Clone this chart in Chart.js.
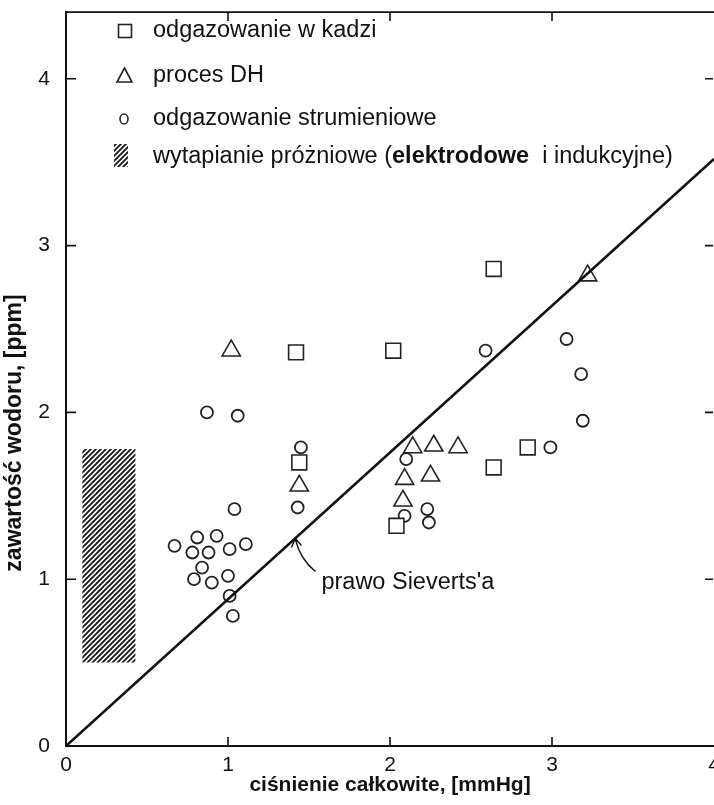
<!DOCTYPE html>
<html>
<head>
<meta charset="utf-8">
<script src="https://cdn.jsdelivr.net/npm/chart.js@4.4.1/dist/chart.umd.min.js"></script>
<style>
    html, body { margin: 0; padding: 0; background: #fff; overflow: hidden; }
    #wrap { width: 714px; height: 805px; overflow: hidden; }
    #wrap canvas { display: block; }
</style>
</head>
<body>
<div id="wrap"><canvas id="chart" width="740" height="805"></canvas></div>
<script>
// odgazowanie w kadzi (squares)
const kadziX = [1.42, 2.02, 2.64, 1.44, 2.04, 2.64, 2.85];
const kadziY = [2.36, 2.37, 2.86, 1.70, 1.32, 1.67, 1.79];

// proces DH (triangles)
const dhX = [1.02, 1.44, 2.14, 2.27, 2.42, 2.09, 2.25, 2.08, 3.22];
const dhY = [2.37, 1.56, 1.79, 1.80, 1.79, 1.60, 1.62, 1.47, 2.82];

// odgazowanie strumieniowe (circles)
const strumX = [0.87, 1.06, 1.45, 1.43, 1.04, 0.67, 0.81, 0.93, 0.78, 0.88, 1.01, 1.11, 0.84, 0.79, 0.90, 1.00, 1.01, 1.03,
                2.10, 2.09, 2.23, 2.24, 2.85, 2.99, 2.59, 3.09, 3.18, 3.19];
const strumY = [2.00, 1.98, 1.79, 1.43, 1.42, 1.20, 1.25, 1.26, 1.16, 1.16, 1.18, 1.21, 1.07, 1.00, 0.98, 1.02, 0.90, 0.78,
                1.72, 1.38, 1.42, 1.34, 1.79, 1.79, 2.37, 2.44, 2.23, 1.95];

// wytapianie próżniowe (hatched range)
const prozniaX = [0.10, 0.43];
const prozniaY = [0.50, 1.78];

// prawo Sieverts'a
const sievertsX = [0, 4];
const sievertsY = [0, 3.52];
const arrowAt = [1.41, 1.25];

const xTicks = [0, 1, 2, 3, 4];
const yTicks = [0, 1, 2, 3, 4];

const xTitle = 'ciśnienie całkowite, [mmHg]';
const yTitle = 'zawartość wodoru, [ppm]';
const legendLabels = ['odgazowanie w kadzi', 'proces DH', 'odgazowanie strumieniowe'];

const toPts = (xs, ys) => xs.map((x, i) => ({ x, y: ys[i] }));

const canvas = document.getElementById('chart');
const ctx0 = canvas.getContext('2d');

function makeHatch() {
    const s = 5;
    const c = document.createElement('canvas');
    c.width = s; c.height = s;
    const g = c.getContext('2d');
    g.strokeStyle = '#1a1a1a';
    g.lineWidth = 1.9;
    g.beginPath();
    g.moveTo(-1, s + 1); g.lineTo(s + 1, -1);
    g.moveTo(-1, 1); g.lineTo(1, -1);
    g.moveTo(s - 1, s + 1); g.lineTo(s + 1, s - 1);
    g.stroke();
    return ctx0.createPattern(c, 'repeat');
}
const hatch = makeHatch();

const FONT = "'Liberation Sans', Arial, sans-serif";

// inner tick marks, top border, y title, legend, arrow
const decorations = {
    id: 'decorations',
    afterDraw(chart) {
        const { ctx, chartArea: a, scales: { x, y } } = chart;
        ctx.save();
        ctx.strokeStyle = '#111';
        ctx.lineWidth = 1.6;
        ctx.beginPath();
        ctx.moveTo(a.left, a.top); ctx.lineTo(a.right, a.top);
        xTicks.slice(1, 4).forEach(v => {
            const px = x.getPixelForValue(v);
            ctx.moveTo(px, a.bottom); ctx.lineTo(px, a.bottom - 9);
            ctx.moveTo(px, a.top); ctx.lineTo(px, a.top + 9);
        });
        yTicks.slice(1).forEach(v => {
            const py = y.getPixelForValue(v);
            ctx.moveTo(a.left, py); ctx.lineTo(a.left + 10, py);
            ctx.moveTo(a.right - 1, py); ctx.lineTo(a.right - 9, py);
        });
        ctx.stroke();

        // y title
        ctx.fillStyle = '#111';
        ctx.font = 'bold 23px ' + FONT;
        ctx.textAlign = 'center';
        ctx.textBaseline = 'middle';
        ctx.translate(15, 433);
        ctx.rotate(-Math.PI / 2);
        ctx.fillText(yTitle, 0, 0);
        ctx.restore();

        // legend
        ctx.save();
        ctx.fillStyle = '#111';
        ctx.strokeStyle = '#222';
        ctx.lineWidth = 1.6;
        ctx.font = '23.5px ' + FONT;
        ctx.textBaseline = 'middle';
        ctx.textAlign = 'left';
        const rows = [31, 76, 119, 157];
        const tx = 153;
        ctx.strokeRect(118.5, rows[0] - 6.5, 13, 13);
        ctx.fillText(legendLabels[0], tx, rows[0]);
        ctx.beginPath();
        ctx.moveTo(124.5, rows[1] - 8); ctx.lineTo(132, rows[1] + 6); ctx.lineTo(117, rows[1] + 6); ctx.closePath();
        ctx.stroke();
        ctx.fillText(legendLabels[1], tx, rows[1]);
        ctx.beginPath();
        ctx.ellipse(124, rows[2], 4, 5, 0, 0, Math.PI * 2);
        ctx.stroke();
        ctx.fillText(legendLabels[2], tx, rows[2]);
        ctx.fillStyle = hatch;
        ctx.fillRect(114, rows[3] - 13, 14, 23);
        ctx.fillStyle = '#111';
        let cx = tx;
        const parts = [['wytapianie próżniowe ', false], ['(', false], ['elektrodowe', true], ['  i indukcyjne)', false]];
        parts.forEach(([t, b]) => {
            ctx.font = (b ? 'bold ' : '') + '23.5px ' + FONT;
            ctx.fillText(t, cx, rows[3]);
            cx += ctx.measureText(t).width;
        });
        ctx.restore();

        // Sieverts arrow + label
        const tipX = x.getPixelForValue(arrowAt[0]);
        const tipY = y.getPixelForValue(arrowAt[1]);
        ctx.save();
        ctx.strokeStyle = '#111';
        ctx.lineWidth = 1.4;
        ctx.beginPath();
        ctx.moveTo(tipX + 21, tipY + 34);
        ctx.quadraticCurveTo(tipX + 6, tipY + 22, tipX + 1, tipY + 2);
        ctx.moveTo(tipX - 3, tipY + 10); ctx.lineTo(tipX + 1, tipY + 1); ctx.lineTo(tipX + 7, tipY + 8);
        ctx.stroke();
        ctx.fillStyle = '#111';
        ctx.font = '23.5px ' + FONT;
        ctx.textBaseline = 'middle';
        ctx.fillText("prawo Sieverts'a", tipX + 27, tipY + 45);
        ctx.restore();
    }
};

new Chart(canvas, {
    type: 'scatter',
    data: {
        datasets: [
            {
                type: 'line',
                data: toPts(prozniaX, [prozniaY[1], prozniaY[1]]),
                borderWidth: 0,
                pointRadius: 0,
                backgroundColor: hatch,
                fill: '+1'
            },
            {
                type: 'line',
                data: toPts(prozniaX, [prozniaY[0], prozniaY[0]]),
                borderWidth: 0,
                pointRadius: 0,
                fill: false
            },
            {
                type: 'line',
                data: toPts(sievertsX, sievertsY),
                borderColor: '#111',
                borderWidth: 2.6,
                pointRadius: 0,
                fill: false
            },
            {
                data: toPts(kadziX, kadziY),
                pointStyle: 'rect',
                pointRadius: 10.5,
                borderColor: '#222',
                borderWidth: 1.6,
                backgroundColor: '#fff'
            },
            {
                data: toPts(dhX, dhY),
                pointStyle: 'triangle',
                pointRadius: 10.5,
                borderColor: '#222',
                borderWidth: 1.6,
                backgroundColor: '#fff'
            },
            {
                data: toPts(strumX, strumY),
                pointStyle: 'circle',
                pointRadius: 6,
                borderColor: '#222',
                borderWidth: 1.8,
                backgroundColor: '#fff'
            }
        ]
    },
    options: {
        responsive: false,
        animation: false,
        layout: { padding: { top: 12, right: 26, bottom: 0, left: 0 } },
        plugins: { legend: { display: false }, tooltip: { enabled: false } },
        scales: {
            x: {
                type: 'linear',
                min: 0,
                max: 4,
                afterBuildTicks: s => { s.ticks = xTicks.map(v => ({ value: v })); },
                afterFit: s => { s.height = 59; },
                grid: { display: false, drawTicks: false },
                border: { display: true, color: '#111', width: 2 },
                ticks: { color: '#111', font: { family: FONT, size: 21 }, padding: 7, maxRotation: 0 },
                title: { display: true, text: xTitle, color: '#111', font: { family: FONT, size: 21, weight: 'bold' }, padding: { top: 0, bottom: 7 } }
            },
            y: {
                type: 'linear',
                min: 0,
                max: 4.4,
                afterBuildTicks: s => { s.ticks = yTicks.map(v => ({ value: v })); },
                afterFit: s => { s.width = 66; s.paddingTop = 0; s.paddingBottom = 0; },
                grid: { display: false, drawTicks: false },
                border: { display: true, color: '#111', width: 2 },
                ticks: { color: '#111', font: { family: FONT, size: 21 }, padding: 16 }
            }
        }
    },
    plugins: [decorations]
});
</script>
</body>
</html>
